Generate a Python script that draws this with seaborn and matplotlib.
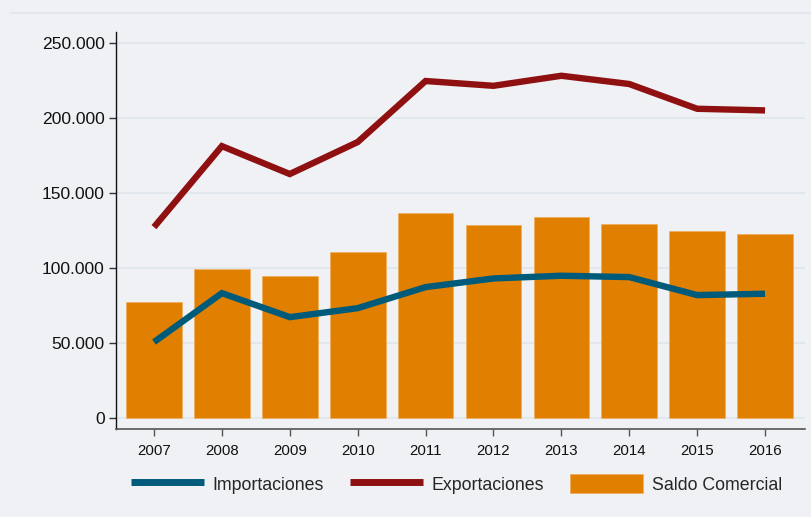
import matplotlib
matplotlib.use("Agg")
import matplotlib.pyplot as plt
from matplotlib.lines import Line2D
from matplotlib.patches import Patch
from matplotlib.ticker import FuncFormatter
import seaborn as sns
import pandas as pd

years = ["2007", "2008", "2009", "2010", "2011", "2012", "2013", "2014", "2015", "2016"]
importaciones = [50.7, 83.3, 67.3, 73.3, 87.3, 93.1, 94.9, 94.0, 82.0, 82.9]
exportaciones = [127.3, 181.3, 162.7, 184.0, 224.7, 221.5, 228.2, 222.7, 206.2, 205.1]
saldo = [77.3, 99.3, 94.7, 110.7, 136.7, 128.7, 134.0, 129.1, 124.9, 122.9]
yticks = [0, 50000, 100000, 150000, 200000, 250000]

df = pd.DataFrame({
    "year": years,
    "imp": [v * 1000 for v in importaciones],
    "exp": [v * 1000 for v in exportaciones],
    "saldo": [v * 1000 for v in saldo],
})

BG = "#eff1f4"
GRID = "#dde7ec"
ORANGE = "#e07f00"
RED = "#8f1010"
BLUE = "#005b7a"

sns.set_theme(style="white")
plt.rcParams["font.family"] = ["Liberation Sans", "DejaVu Sans"]

fig = plt.figure(figsize=(8.11, 5.17), dpi=100, facecolor=BG)
ax = fig.add_axes([0.143, 0.170, 0.8497, 0.768])
ax.set_facecolor(BG)

sns.barplot(data=df, x="year", y="saldo", color=ORANGE, saturation=1, width=0.82,
            edgecolor="#f0b060", linewidth=0.6, ax=ax, zorder=2)
sns.pointplot(data=df, x="year", y="imp", color=BLUE, markers="", linewidth=4.6,
              solid_capstyle="butt", solid_joinstyle="miter",
              errorbar=None, ax=ax, zorder=3)
sns.pointplot(data=df, x="year", y="exp", color=RED, markers="", linewidth=4.6,
              solid_capstyle="butt", solid_joinstyle="miter",
              errorbar=None, ax=ax, zorder=3)

ax.set_xlim(-0.56, 9.59)
ax.set_ylim(-7333, 257333)
ax.set_yticks(yticks)
ax.yaxis.set_major_formatter(FuncFormatter(lambda v, p: "0" if v == 0 else f"{int(v):,}".replace(",", ".")))
ax.grid(axis="y", color=GRID, linewidth=1.2, zorder=0)
ax.set_axisbelow(True)
ax.set_xlabel("")
ax.set_ylabel("")

for s in ["top", "right"]:
    ax.spines[s].set_visible(False)
ax.spines["left"].set_color("#111111")
ax.spines["left"].set_linewidth(1.0)
ax.spines["bottom"].set_color("#555555")
ax.spines["bottom"].set_linewidth(1.2)

ax.tick_params(axis="y", which="major", left=True, length=5, width=1, color="#333333",
               labelsize=12.6, pad=3, labelcolor="#111111")
ax.tick_params(axis="x", which="major", bottom=True, length=5, width=1, color="#555555",
               labelsize=10.8, pad=5.5, labelcolor="#111111")

fig.add_artist(Line2D([0.012, 1.0], [1 - 13 / 517, 1 - 13 / 517], transform=fig.transFigure,
                      color=GRID, linewidth=1.2))

handles = [
    Line2D([0], [0], color=BLUE, linewidth=5, solid_capstyle="butt"),
    Line2D([0], [0], color=RED, linewidth=5, solid_capstyle="butt"),
    Patch(facecolor=ORANGE, edgecolor="#f0b060", linewidth=0.6),
]
labels = ["Importaciones", "Exportaciones", "Saldo Comercial"]
fig.legend(handles, labels, loc="center", bbox_to_anchor=(0.563, 0.064), ncol=3,
           frameon=False, fontsize=12.8, handlelength=4.1, handleheight=1.25,
           handletextpad=0.5, columnspacing=1.45)

fig.savefig("out.png", dpi=100, facecolor=BG)
